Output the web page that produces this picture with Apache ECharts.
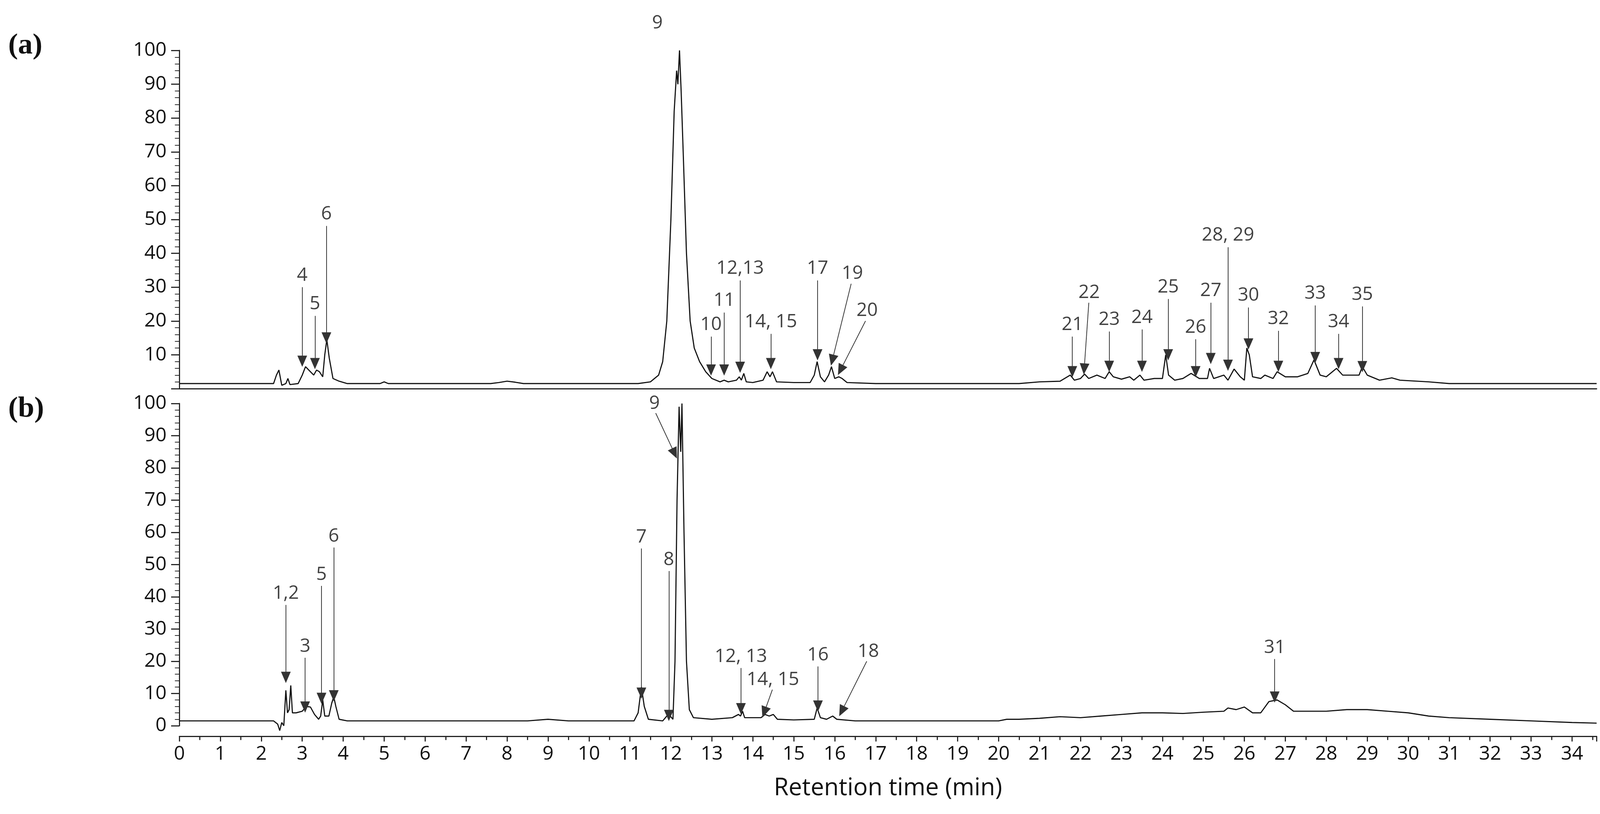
<!DOCTYPE html>
<html><head><meta charset="utf-8">
<script src="https://cdn.jsdelivr.net/npm/echarts@6/dist/echarts.min.js"></script>
<style>html,body{margin:0;padding:0;background:#fff;overflow:hidden}#c{width:100vw;height:100vh}</style>
</head><body><div id="c"></div>
<script>
const xTicks = Array.from({length:35},(_,i)=>i);
const traceA = [[0,1.5],[2.3,1.5],[2.37,4],[2.43,5.5],[2.5,1.0],[2.6,1.5],[2.65,3],[2.7,1.2],[2.9,1.5],[3.0,4],[3.08,6.5],[3.2,5],[3.28,4],[3.35,5.5],[3.42,5],[3.5,3.5],[3.55,10],[3.6,14.5],[3.66,9],[3.75,3],[3.9,2.2],[4.1,1.5],[4.9,1.5],[5.0,2.0],[5.1,1.5],[7.6,1.5],[7.8,1.8],[8.0,2.2],[8.2,1.9],[8.4,1.5],[11.2,1.5],[11.5,2.0],[11.7,4],[11.8,8],[11.9,20],[12.0,50],[12.08,82],[12.14,94],[12.17,90],[12.21,100],[12.25,88],[12.3,70],[12.38,40],[12.47,20],[12.57,12],[12.7,8],[12.85,5],[13.0,3],[13.2,2],[13.3,2.5],[13.4,2],[13.6,2.5],[13.67,3.5],[13.72,2.5],[13.78,4.5],[13.84,2],[14.0,1.8],[14.25,2.5],[14.35,5],[14.42,3.5],[14.48,5],[14.58,2],[15.0,1.8],[15.4,1.8],[15.5,4],[15.57,8],[15.65,3.5],[15.75,2],[15.85,4],[15.92,6.5],[16.0,3],[16.1,3.5],[16.18,3],[16.3,1.8],[17.0,1.5],[20.5,1.5],[21.0,2],[21.5,2.2],[21.75,4],[21.85,2.5],[22.0,3],[22.1,4.3],[22.2,3],[22.4,4],[22.6,3],[22.7,5],[22.8,3.5],[23.0,2.8],[23.2,3.5],[23.3,2.5],[23.45,4],[23.55,2.5],[23.8,3],[24.0,3],[24.08,10],[24.15,4],[24.3,2.5],[24.5,3],[24.7,4.5],[24.9,3],[25.1,3],[25.15,6],[25.25,3],[25.5,4],[25.6,2.5],[25.75,5.8],[25.9,3.5],[26.0,2.5],[26.06,12],[26.12,10],[26.2,3.5],[26.4,3],[26.5,4],[26.7,3],[26.8,5],[27.0,3.5],[27.3,3.5],[27.55,4.5],[27.7,8.5],[27.85,4],[28.0,3.5],[28.25,6],[28.4,4],[28.6,4],[28.8,4],[28.88,6.5],[29.0,4],[29.3,2.5],[29.6,3.2],[29.8,2.5],[30.5,2],[31,1.5],[34.6,1.5]];
const traceB = [[0,1.5],[2.3,1.5],[2.4,0.5],[2.45,-1.5],[2.5,1],[2.55,0],[2.6,11],[2.64,4],[2.68,5],[2.72,12.5],[2.76,4],[2.85,4],[3.0,4.5],[3.1,6],[3.2,5.8],[3.3,3.5],[3.4,2],[3.45,3],[3.5,8],[3.55,3],[3.65,3],[3.72,7],[3.77,9],[3.82,6],[3.9,2],[4.1,1.5],[8.5,1.5],[9.0,2],[9.5,1.5],[11.1,1.5],[11.2,4],[11.28,12],[11.35,6],[11.45,2],[11.8,1.5],[11.9,3],[11.95,3.5],[12.05,2],[12.1,20],[12.15,70],[12.2,99],[12.24,85],[12.27,100],[12.32,60],[12.38,20],[12.45,5],[12.55,2.5],[13.0,2],[13.5,2.5],[13.65,3.5],[13.7,3],[13.75,4.5],[13.8,2.5],[14.2,2.5],[14.3,3.5],[14.4,3],[14.5,3.5],[14.6,2],[15.0,1.8],[15.5,2],[15.57,5.5],[15.65,2.5],[15.8,2],[15.95,3],[16.05,2],[16.5,1.5],[17,1.5],[20,1.5],[20.2,2],[20.5,2],[21,2.3],[21.5,2.8],[22,2.5],[22.5,3],[23,3.5],[23.5,4],[24,4],[24.5,3.8],[25,4.2],[25.5,4.5],[25.6,5.5],[25.8,5],[26,5.8],[26.2,4],[26.4,4],[26.6,7.5],[26.8,8],[27.0,6.5],[27.2,4.5],[27.5,4.5],[28,4.5],[28.5,5],[29,5],[29.5,4.5],[30,4],[30.5,3],[31,2.5],[32,2],[33,1.5],[34,1],[34.6,0.8]];
// [label, labelX, labelY, tipX, tipY]
const annA = [["4",3.0,33.5,3.0,8.1],["5",3.31,25,3.31,7.4],["6",3.59,51.6,3.59,15],["9",11.67,108,12.09,95],["10",12.98,18.9,12.98,5.5],["11",13.3,26,13.3,5.5],["12,13",13.69,35.5,13.69,6.3],["14, 15",14.44,19.7,14.44,7.4],["17",15.58,35.5,15.58,10],["19",16.43,34,15.94,8.4],["20",16.79,23,16.14,5.5],["21",21.8,18.9,21.8,5],["22",22.21,28.4,22.09,5.8],["23",22.7,20.4,22.7,6.6],["24",23.5,21,23.5,6.6],["25",24.14,30,24.14,10],["26",24.81,18.1,24.81,5],["27",25.18,28.9,25.18,8.9],["28, 29",25.6,45.3,25.6,6.9],["30",26.1,27.5,26.1,13.2],["32",26.83,20.6,26.83,6.6],["33",27.73,28.1,27.73,9.2],["34",28.3,19.7,28.3,7.4],["35",28.88,27.8,28.88,6.5]];
const annB = [["1,2",2.6,41,2.6,15],["3",3.07,24.6,3.07,5.8],["5",3.47,46.9,3.47,8.5],["6",3.77,58.8,3.77,9.3],["7",11.28,58.5,11.28,10.1],["8",11.95,51.5,11.95,3.2],["9",11.6,100,12.09,84.5],["12, 13",13.71,21.4,13.71,5.3],["14, 15",14.49,14.2,14.28,4.2],["16",15.59,21.9,15.59,6.1],["18",16.82,23,16.17,4.5],["31",26.74,24.2,26.74,8.9]];

const FONT='"Open Sans", sans-serif';
const el = document.getElementById('c');
const W = el.clientWidth, H = el.clientHeight;
const sx = W/4273, sy = H/2084, s = Math.min(sx, sy);
const chart = echarts.init(el);
function xAx(gi, show, offset){
  return {type:'value',gridIndex:gi,min:0,max:34.6,interval:1,offset:offset*sy,
    axisLine:{show:true,onZero:false,lineStyle:{color:'#222',width:3*s}},
    axisTick:{show:show,inside:false,length:14*s,lineStyle:{color:'#222',width:3*s}},
    minorTick:{show:show,splitNumber:2,length:10*s,lineStyle:{color:'#222',width:3*s}},
    axisLabel:{show:show,fontSize:52*s,color:'#111',fontFamily:FONT,margin:22*s,
      formatter:v=>xTicks.includes(v)?String(v):''},
    splitLine:{show:false},
    name:show?'Retention time (min)':'',nameLocation:'middle',nameGap:108*s,
    nameTextStyle:{fontSize:64*s,color:'#111',fontFamily:FONT}};
}
function yAx(gi, hideZero){
  return {type:'value',gridIndex:gi,min:0,max:100,interval:10,
    axisLine:{show:true,lineStyle:{color:'#222',width:3*s}},
    axisTick:{show:true,length:22*s,lineStyle:{color:'#222',width:3*s}},
    minorTick:{show:true,splitNumber:5,length:12*s,lineStyle:{color:'#222',width:2*s}},
    axisLabel:{fontSize:52*s,color:'#111',fontFamily:FONT,margin:34*s,
      formatter:v=>(hideZero&&v===0)?'':String(v)},
    splitLine:{show:false}};
}
function ann(list, xi, yi){
  const lines = list.map(a=>{
    const dy=(a[2]>=100||a[3]!==a[1])?3:3.5;
    const x0=a[1]+(a[3]-a[1])*0.06;
    return [{coord:[x0,a[2]-dy]},{coord:[a[3],a[4]]}];
  });
  return [{type:'scatter',xAxisIndex:xi,yAxisIndex:yi,symbolSize:0,silent:true,animation:false,clip:false,
    data:list.map(a=>({value:[a[1],a[2]],name:a[0]})),
    label:{show:true,position:'inside',formatter:p=>p.name,fontSize:50*s,color:'#111',fontFamily:FONT},
    markLine:{silent:true,animation:false,symbol:['none','triangle'],symbolSize:[26*s,30*s],
      lineStyle:{color:'#333',width:2*s,type:'solid'},label:{show:false},data:lines}}];
}
const g = (l,r,t,b)=>({left:l*sx,right:r*sx,top:t*sy,bottom:b*sy,containLabel:false,outerBoundsMode:'none'});
chart.setOption({
  backgroundColor:'#fff',animation:false,
  grid:[g(479,9,129,1089),g(479,9,1033,226)],
  xAxis:[xAx(0,false,0),xAx(1,true,27)],
  yAxis:[yAx(0,true),yAx(1,false)],
  graphic:[
    {type:'text',left:22*sx,top:80*sy,style:{text:'(a)',font:'bold '+Math.round(78*s)+'px "Liberation Serif", serif',fill:'#111'}},
    {type:'text',left:22*sx,top:1010*sy,style:{text:'(b)',font:'bold '+Math.round(78*s)+'px "Liberation Serif", serif',fill:'#111'}}
  ],
  series:[
    {type:'line',xAxisIndex:0,yAxisIndex:0,data:traceA,showSymbol:false,clip:false,lineStyle:{color:'#111',width:3*s}},
    {type:'line',xAxisIndex:1,yAxisIndex:1,data:traceB,showSymbol:false,clip:false,lineStyle:{color:'#111',width:3*s}},
    ...ann(annA,0,0),...ann(annB,1,1)
  ]
});
</script></body></html>
